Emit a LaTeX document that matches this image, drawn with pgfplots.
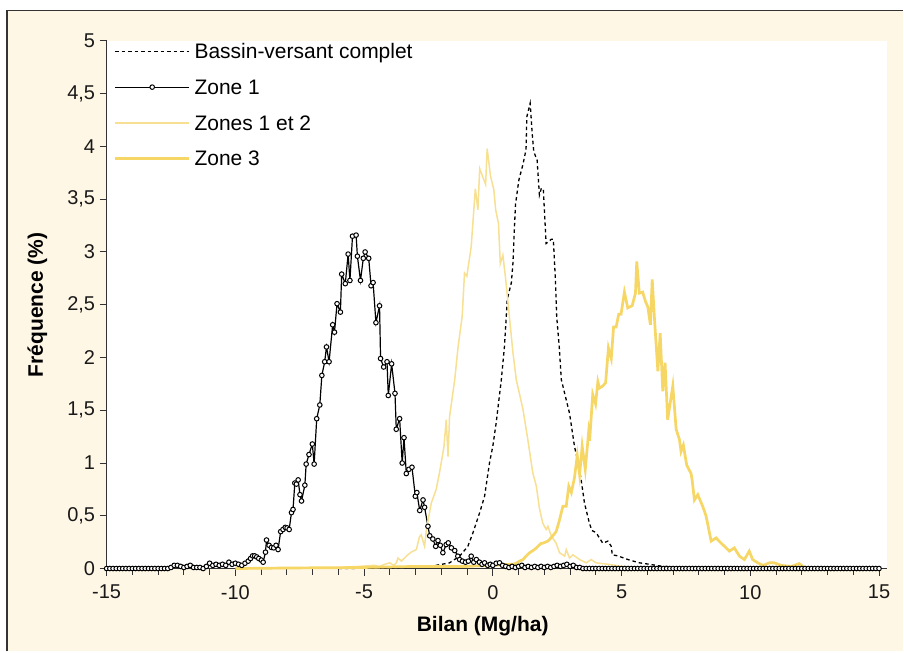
\documentclass[border=0pt]{standalone}
\usepackage{pgfplots}
\pgfplotsset{compat=1.18}
\usepackage{fontspec}
\setmainfont{Liberation Sans}

\definecolor{cream}{HTML}{FFF7E6}
\definecolor{framegray}{HTML}{333333}
\definecolor{zonetrois}{HTML}{F6D766}
\definecolor{zonesundeux}{HTML}{F8E092}

\begin{document}
\begin{tikzpicture}
% fond et cadre
\fill[white] (-106.7pt,-83pt) rectangle (797.3pt,569pt);
\fill[cream] (-99.7pt,-83pt) rectangle (797.3pt,558.5pt);
\draw[line width=1.5pt, framegray] (-99.7pt,-83pt) -- (-99.7pt,558.5pt) -- (797.3pt,558.5pt);
\path[use as bounding box] (-106.7pt,-83pt) rectangle (797.3pt,569pt);

\begin{axis}[
    at={(0pt,0pt)}, anchor=south west,
    scale only axis,
    width=780.8pt, height=528pt,
    xmin=-15, xmax=15.3,
    ymin=0, ymax=5,
    axis lines=left,
    axis line style={-, line width=1pt, framegray},
    axis background/.style={fill=white},
    clip=false,
    tick align=outside,
    tick style={line width=1pt, framegray},
    major tick length=7pt,
    minor tick length=6pt,
    xtick={-15,-10,-5,0,5,10,15},
    xticklabels={-15,-10,-5,0,5,10,15},
    minor xtick={-14,-13,-12,-11,-9,-8,-7,-6,-4,-3,-2,-1,1,2,3,4,6,7,8,9,11,12,13,14},
    ytick={0,0.5,1,1.5,2,2.5,3,3.5,4,4.5,5},
    yticklabels={0,{0,5},1,{1,5},2,{2,5},3,{3,5},4,{4,5},5},
    ticklabel style={font=\fontsize{20}{24}\selectfont, text=black!90},
    xticklabel style={yshift=-6pt},
    yticklabel style={xshift=-1pt},
    xlabel={Bilan (Mg/ha)},
    ylabel={Fréquence (\%)},
    xlabel style={at={(axis description cs:0.482,-0.1193)}, anchor=base, font=\fontsize{21}{25}\selectfont\bfseries},
    ylabel style={at={(axis description cs:-0.0816,0.5)}, rotate=0, anchor=base, font=\fontsize{21}{25}\selectfont\bfseries},
    legend cell align=left,
    legend style={at={(axis description cs:0,1)}, anchor=north west,
        xshift=7.3pt, yshift=-2pt,
        draw=none, fill=none, inner sep=0pt, outer sep=0pt,
        row sep=18.7pt, column sep=4pt,
        font=\fontsize{21}{25}\selectfont,
        nodes={inner sep=0pt, text height=16pt, text depth=1pt}},
    legend image code/.code={
        \draw[mark repeat=2,mark phase=2,#1] plot coordinates {(0pt,0pt) (37pt,0pt) (74pt,0pt)};
    },
]

% Bassin-versant complet
\addplot[black, line width=1.3pt, dash pattern=on 3.5pt off 3pt] coordinates {
(-6,0) (-4,0.005) (-3.5,0.01) (-2.7,0.02) (-2.2,0.03) (-1.68,0.054) (-1.29,0.117)
(-0.97,0.21) (-0.77,0.34) (-0.51,0.53) (-0.32,0.685) (-0.13,1.0) (0,1.16) (0.13,1.38)
(0.33,1.79) (0.45,2.1) (0.52,2.38) (0.56,2.55) (0.72,2.71) (0.78,2.89) (0.84,3.23)
(0.88,3.45) (1.01,3.68) (1.17,3.83) (1.29,3.97) (1.32,4.28) (1.45,4.41) (1.53,4.12)
(1.59,3.95) (1.72,3.87) (1.81,3.54) (1.88,3.60) (1.96,3.60) (2.07,3.08) (2.27,3.12)
(2.35,3.12) (2.43,2.74) (2.48,2.39) (2.58,2.1) (2.66,1.79) (2.98,1.47) (3.17,1.16)
(3.34,0.97) (3.43,0.84) (3.56,0.62) (3.75,0.43) (3.85,0.36) (4.01,0.34) (4.27,0.24)
(4.47,0.26) (4.60,0.21) (4.64,0.13) (4.85,0.12) (5.31,0.08) (5.70,0.054) (6.09,0.04)
(6.60,0.02) (7.5,0.01) (8.5,0) (15,0)
};
\addlegendentry{Bassin-versant complet}

% Zone 1
\addplot[black, line width=1.2pt, mark=*, mark size=2.3pt,
    mark options={solid, fill=white, draw=black, line width=1pt}] coordinates {
(-15,0) (-14.875,0) (-14.75,0) (-14.625,0) (-14.5,0) (-14.375,0) (-14.25,0) (-14.125,0)
(-14,0) (-13.875,0) (-13.75,0) (-13.625,0) (-13.5,0) (-13.375,0) (-13.25,0) (-13.125,0)
(-13,0) (-12.875,0) (-12.75,0) (-12.625,0)
(-12.5,0.01) (-12.375,0.03) (-12.25,0.03) (-12.125,0.02) (-12,0.01) (-11.875,0.02)
(-11.75,0.03) (-11.625,0.01) (-11.5,0.01) (-11.375,0.01) (-11.25,0) (-11.125,0.02)
(-11,0.05) (-10.875,0.03) (-10.75,0.04) (-10.625,0.03) (-10.5,0.04) (-10.375,0.03)
(-10.25,0.06) (-10.125,0.04) (-10,0.05) (-9.875,0.04) (-9.75,0.03) (-9.625,0.05)
(-9.5,0.07) (-9.41,0.095) (-9.33,0.12) (-9.25,0.12) (-9.17,0.11) (-9.09,0.095)
(-8.99,0.08) (-8.92,0.06) (-8.83,0.155) (-8.79,0.27) (-8.69,0.22) (-8.6,0.2)
(-8.51,0.196) (-8.42,0.22) (-8.34,0.18) (-8.24,0.35) (-8.15,0.37) (-8.06,0.39)
(-7.99,0.385) (-7.91,0.37) (-7.82,0.53) (-7.76,0.56) (-7.69,0.81) (-7.63,0.80)
(-7.56,0.84) (-7.49,0.7) (-7.43,0.64) (-7.3,0.79) (-7.25,0.99) (-7.14,1.08)
(-7.01,1.18) (-6.94,0.99) (-6.84,1.42) (-6.72,1.55) (-6.64,1.83) (-6.53,1.96)
(-6.46,2.10) (-6.36,1.96) (-6.22,2.31) (-6.15,2.24) (-6.05,2.51) (-5.92,2.43)
(-5.87,2.79) (-5.73,2.70) (-5.62,2.98) (-5.55,2.73) (-5.45,3.15) (-5.31,3.16)
(-5.26,2.96) (-5.14,2.73) (-5.03,2.94) (-4.96,3.00) (-4.82,2.94) (-4.73,2.68)
(-4.65,2.71) (-4.54,2.33) (-4.40,2.49) (-4.36,1.99) (-4.24,1.91) (-4.11,1.96)
(-4.06,1.64) (-3.93,1.94) (-3.80,1.66) (-3.75,1.32) (-3.62,1.42) (-3.52,1.0)
(-3.45,1.24) (-3.36,0.9) (-3.26,0.94) (-3.14,0.96) (-3.01,0.685) (-2.95,0.72)
(-2.84,0.55) (-2.71,0.65) (-2.65,0.58) (-2.52,0.40) (-2.45,0.31) (-2.33,0.28)
(-2.22,0.21) (-2.13,0.265) (-2.04,0.22) (-1.94,0.15) (-1.81,0.227) (-1.73,0.243)
(-1.61,0.196) (-1.48,0.17) (-1.36,0.117) (-1.29,0.085) (-1.18,0.07) (-1.06,0.06)
(-0.95,0.07) (-0.84,0.117) (-0.74,0.06) (-0.64,0.085) (-0.52,0.06) (-0.42,0.04)
(-0.32,0.054) (-0.2,0.03) (-0.1,0.04) (0,0.03) (0.13,0.05) (0.26,0.054) (0.38,0.03)
(0.5,0.02) (0.625,0.01) (0.75,0.02) (0.875,0.01) (1,0.02) (1.125,0.03) (1.25,0.01)
(1.375,0.02) (1.5,0.01) (1.625,0.02) (1.75,0.01) (1.875,0.02) (2,0.01) (2.125,0.02)
(2.25,0.01) (2.375,0.02) (2.5,0.03) (2.625,0.02) (2.75,0.03) (2.875,0.04) (3,0.02)
(3.125,0.03) (3.25,0.01) (3.375,0.01) (3.5,0)
(3.625,0) (3.75,0) (3.875,0) (4,0) (4.125,0) (4.25,0) (4.375,0) (4.5,0) (4.625,0)
(4.75,0) (4.875,0) (5,0) (5.125,0) (5.25,0) (5.375,0) (5.5,0) (5.625,0) (5.75,0)
(5.875,0) (6,0) (6.125,0) (6.25,0) (6.375,0) (6.5,0) (6.625,0) (6.75,0) (6.875,0)
(7,0) (7.125,0) (7.25,0) (7.375,0) (7.5,0) (7.625,0) (7.75,0) (7.875,0) (8,0)
(8.125,0) (8.25,0) (8.375,0) (8.5,0) (8.625,0) (8.75,0) (8.875,0) (9,0) (9.125,0)
(9.25,0) (9.375,0) (9.5,0) (9.625,0) (9.75,0) (9.875,0) (10,0) (10.125,0) (10.25,0)
(10.375,0) (10.5,0) (10.625,0) (10.75,0) (10.875,0) (11,0) (11.125,0) (11.25,0)
(11.375,0) (11.5,0) (11.625,0) (11.75,0) (11.875,0) (12,0) (12.125,0) (12.25,0)
(12.375,0) (12.5,0) (12.625,0) (12.75,0) (12.875,0) (13,0) (13.125,0) (13.25,0)
(13.375,0) (13.5,0) (13.625,0) (13.75,0) (13.875,0) (14,0) (14.125,0) (14.25,0)
(14.375,0) (14.5,0) (14.625,0) (14.75,0) (14.875,0) (15,0)
};
\addlegendentry{Zone 1}

% Zones 1 et 2
\addplot[zonesundeux, line width=1.5pt] coordinates {
(-9,0) (-7,0.005) (-6,0.01) (-5.2,0.02) (-4.6,0.03) (-4.4,0.02) (-4.2,0.04) (-4.0,0.054)
(-3.85,0.03) (-3.75,0.054) (-3.68,0.10) (-3.55,0.07) (-3.49,0.085) (-3.30,0.13)
(-3.17,0.155) (-2.97,0.18) (-2.85,0.3) (-2.78,0.32) (-2.70,0.25) (-2.65,0.21)
(-2.58,0.37) (-2.39,0.62) (-2.20,0.75) (-2.07,0.91) (-1.9,1.15) (-1.81,1.41)
(-1.74,1.06) (-1.68,1.44) (-1.48,1.79) (-1.35,2.1) (-1.19,2.39) (-1.10,2.80)
(-1.01,2.77) (-0.84,3.05) (-0.68,3.60) (-0.58,3.40) (-0.51,3.79) (-0.28,3.64)
(-0.22,3.98) (-0.09,3.72) (0.04,3.59) (0.11,3.40) (0.22,3.27) (0.29,2.89) (0.39,2.97)
(0.50,2.74) (0.65,2.37) (0.78,2.05) (0.91,1.79) (1.17,1.51) (1.36,1.22) (1.55,0.91)
(1.69,0.78) (1.81,0.57) (1.94,0.43) (2.07,0.37) (2.14,0.40) (2.27,0.31) (2.46,0.24)
(2.59,0.15) (2.79,0.117) (2.85,0.18) (2.98,0.10) (3.11,0.13) (3.37,0.085) (3.63,0.054)
(3.82,0.085) (4.01,0.054) (4.5,0.04) (5,0.02) (6,0.01) (7,0) (15,0)
};
\addlegendentry{Zones 1 et 2}

% Zone 3
\addplot[zonetrois, line width=2.7pt] coordinates {
(-10,0) (-8,0.005) (-5,0.01) (-3,0.02) (-1,0.02) (0,0.03) (0.65,0.04) (0.78,0.04)
(0.9,0.05) (1.04,0.07) (1.17,0.085) (1.29,0.117) (1.43,0.15) (1.62,0.18) (1.69,0.196)
(1.88,0.24) (1.94,0.24) (2.14,0.26) (2.20,0.275) (2.33,0.31) (2.46,0.35) (2.59,0.46)
(2.72,0.59) (2.85,0.59) (2.95,0.78) (3.05,0.72) (3.17,0.86) (3.28,1.07) (3.37,0.89)
(3.47,1.16) (3.59,0.94) (3.72,1.29) (3.76,1.21) (3.88,1.65) (3.99,1.56) (4.08,1.77)
(4.14,1.71) (4.27,1.73) (4.38,1.76) (4.49,2.09) (4.60,1.99) (4.69,2.29) (4.79,2.29)
(4.89,2.41) (4.98,2.41) (5.11,2.62) (5.24,2.47) (5.41,2.49) (5.54,2.61) (5.59,2.91)
(5.69,2.61) (5.82,2.62) (5.93,2.53) (6.02,2.48) (6.12,2.31) (6.19,2.74) (6.28,2.36)
(6.41,1.87) (6.50,2.23) (6.60,1.68) (6.69,1.95) (6.79,1.41) (6.99,1.73) (7.12,1.32)
(7.25,1.22) (7.31,1.11) (7.40,1.17) (7.53,0.98) (7.70,0.90) (7.74,0.84) (7.83,0.65)
(7.96,0.70) (8.15,0.59) (8.28,0.50) (8.48,0.26) (8.67,0.29) (8.87,0.24) (9.06,0.196)
(9.19,0.165) (9.38,0.196) (9.58,0.117) (9.77,0.085) (9.96,0.165) (10.09,0.085)
(10.29,0.054) (10.5,0.03) (10.74,0.054) (10.93,0.054) (11.2,0.03) (11.6,0.02)
(11.9,0.047) (12.1,0.01) (12.5,0) (15,0)
};
\addlegendentry{Zone 3}

\end{axis}
\end{tikzpicture}
\end{document}
